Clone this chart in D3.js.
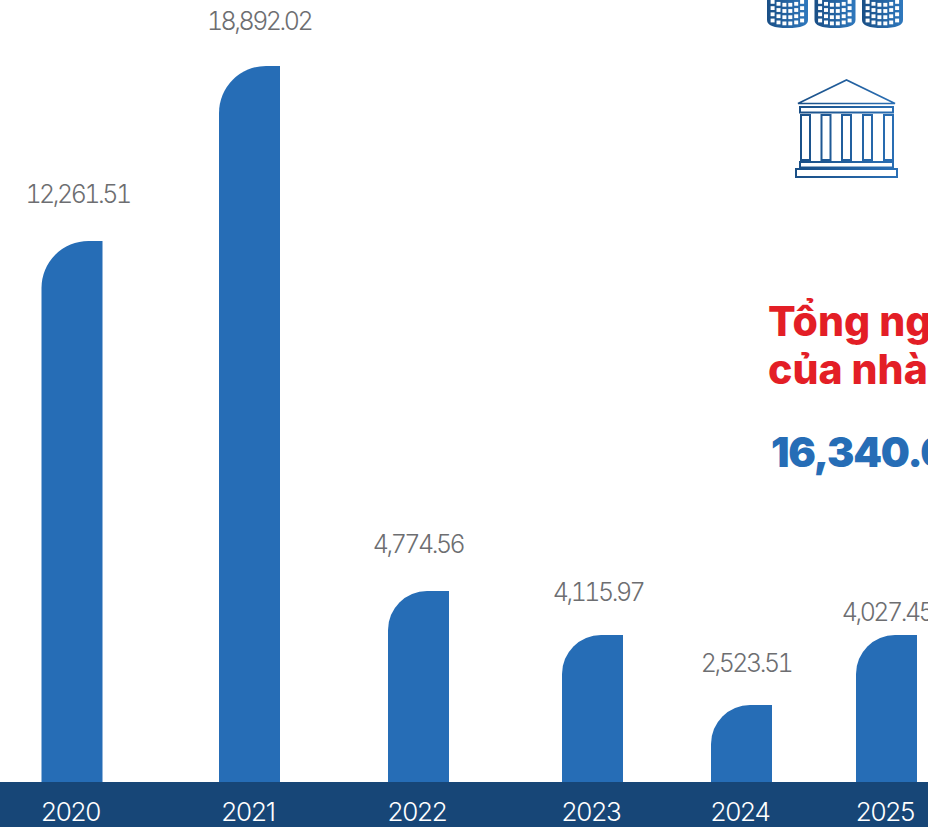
<!DOCTYPE html>
<html>
<head>
<meta charset="utf-8">
<script src="https://cdn.jsdelivr.net/npm/d3@7"></script>
<style>
  html, body { margin: 0; padding: 0; background: #fff; overflow: hidden; }
  svg { display: block; }
  text { font-family: Inter, "Noto Sans", sans-serif; }
</style>
</head>
<body>
<div id="container"></div>
<script>
/* CONSTANTS AND GLOBALS */
const width = 928;
const height = 827;
const bandTop = 782; // top of the dark year strip, also the bars' baseline
const barWidth = 61;

/* DATA */
const years = ["2020", "2021", "2022", "2023", "2024", "2025"];
const values = [12261.51, 18892.02, 4774.56, 4115.97, 2523.51, 4027.45];
const titleLines = ["Tổng ng", "của nhà"];
const totalLabel = "16,340.0";

/* SCALES */
// years are not evenly spaced in the original
const xScale = d3.scaleOrdinal()
  .domain(years)
  .range([72, 249.5, 418.5, 592.5, 741.5, 886.5]);

// the original bars are not to scale, so the value scale is piecewise
const yScale = d3.scaleLinear()
  .domain([0, 2523.51, 4027.45, 4115.97, 4774.56, 12261.51, 18892.02])
  .range([bandTop, 705, 635, 635, 591, 241, 66]);

// value labels are hand placed in the original
const labelX = d3.scaleOrdinal().domain(years).range([77.5, 259, 418, 598, 746, 887]);
const labelY = d3.scaleOrdinal().domain(years).range([203, 30, 553, 601, 672, 621]);

const svg = d3.select("#container")
  .append("svg")
  .attr("width", width)
  .attr("height", height)
  .attr("viewBox", `0 0 ${width} ${height}`);

const defs = svg.append("defs");
const grad = defs.append("linearGradient")
  .attr("id", "iconBlue")
  .attr("gradientUnits", "objectBoundingBox");
grad.append("stop").attr("offset", "0%").attr("stop-color", "#1a4f86");
grad.append("stop").attr("offset", "100%").attr("stop-color", "#2f78bd");

const bankGrad = defs.append("linearGradient")
  .attr("id", "bankBlue")
  .attr("gradientUnits", "userSpaceOnUse")
  .attr("x1", 796).attr("x2", 897).attr("y1", 0).attr("y2", 0);
bankGrad.append("stop").attr("offset", "0%").attr("stop-color", "#1a4f86");
bankGrad.append("stop").attr("offset", "100%").attr("stop-color", "#2a6fb5");

/* BARS */
const barPath = d => {
  const x0 = xScale(d.year) - barWidth / 2;
  const x1 = x0 + barWidth;
  const y0 = yScale(d.value);
  const r = bandTop - y0 > 400 ? 47 : 39;
  return `M${x0},${bandTop}V${y0 + r}A${r},${r} 0 0 1 ${x0 + r},${y0}H${x1}V${bandTop}Z`;
};

const data = years.map((year, i) => ({ year, value: values[i] }));

svg.selectAll(".bar")
  .data(data)
  .enter()
  .append("path")
  .attr("class", "bar")
  .attr("d", barPath)
  .attr("fill", "#266db6");

/* VALUE LABELS */
svg.selectAll(".value-label")
  .data(data)
  .enter()
  .append("text")
  .attr("class", "value-label")
  .attr("x", d => labelX(d.year))
  .attr("y", d => labelY(d.year))
  .attr("text-anchor", "middle")
  .attr("fill", "#6d6e71")
  .style("font-size", "25px")
  .style("font-weight", 300)
  .style("font-variant-numeric", "tabular-nums")
  .style("letter-spacing", "-2.5px")
  .text(d => d3.format(",.2f")(d.value));

/* YEAR STRIP + AXIS */
svg.append("rect")
  .attr("x", 0)
  .attr("y", bandTop)
  .attr("width", width)
  .attr("height", height - bandTop)
  .attr("fill", "#174677");

const xAxis = svg.append("g")
  .attr("transform", `translate(-2,${bandTop})`)
  .call(d3.axisBottom(xScale).tickSize(0).tickPadding(21));
xAxis.select(".domain").remove();
xAxis.selectAll("text")
  .attr("fill", "#fff")
  .style("font-family", "Inter, 'Noto Sans', sans-serif")
  .style("font-size", "26px")
  .style("font-weight", 300)
  .style("letter-spacing", "-1.2px");

/* RIGHT HAND TEXT (runs off the edge in the original) */
svg.selectAll(".title-line")
  .data(titleLines)
  .enter()
  .append("text")
  .attr("class", "title-line")
  .attr("x", 768)
  .attr("y", (d, i) => 336 + i * 48)
  .attr("fill", "#e31e26")
  .style("font-size", "41px")
  .style("font-weight", 800)
  .text(d => d);

svg.append("text")
  .attr("x", 771)
  .attr("y", 467)
  .attr("fill", "#266db6")
  .style("font-size", "41px")
  .style("font-weight", 900)
  .style("letter-spacing", "-1.2px")
  .text(totalLabel);

/* COIN STACKS (decorative, cut by the top edge) */
const coins = svg.append("g");
[767, 814.5, 862].forEach(cx => {
  const g = coins.append("g").attr("transform", `translate(${cx},0)`);
  g.append("path")
    .attr("d", "M0,0V20Q0,28 20.5,28Q41,28 41,20V0Z")
    .attr("fill", "url(#iconBlue)");
  // window grid on the cylinder, rows sag towards the middle
  d3.range(6).forEach(col => {
    const sag = 3 * (1 - ((col - 2.5) / 2.5) ** 2);
    d3.range(4).forEach(row => {
      g.append("rect")
        .attr("x", 3.6 + col * 5.9)
        .attr("y", row * 6.2 + sag)
        .attr("width", 4)
        .attr("height", 3.8)
        .attr("fill", "#fff");
    });
  });
});

/* BANK ICON (decorative) */
const bank = svg.append("g")
  .attr("fill", "none")
  .attr("stroke", "url(#bankBlue)")
  .attr("stroke-width", 2);
bank.append("path").attr("d", "M798,103.5L846.5,80L895,103.5Z").attr("stroke-width", 1.6);
bank.append("rect").attr("x", 800).attr("y", 107).attr("width", 93).attr("height", 5.5);
bank.append("rect").attr("x", 800).attr("y", 162).attr("width", 93).attr("height", 5.5);
bank.append("rect").attr("x", 796).attr("y", 169).attr("width", 101).attr("height", 8);
[801, 821.5, 842, 863, 884].forEach(x => {
  bank.append("rect")
    .attr("x", x)
    .attr("y", 115)
    .attr("width", 9)
    .attr("height", 45);
});
</script>
</body>
</html>
